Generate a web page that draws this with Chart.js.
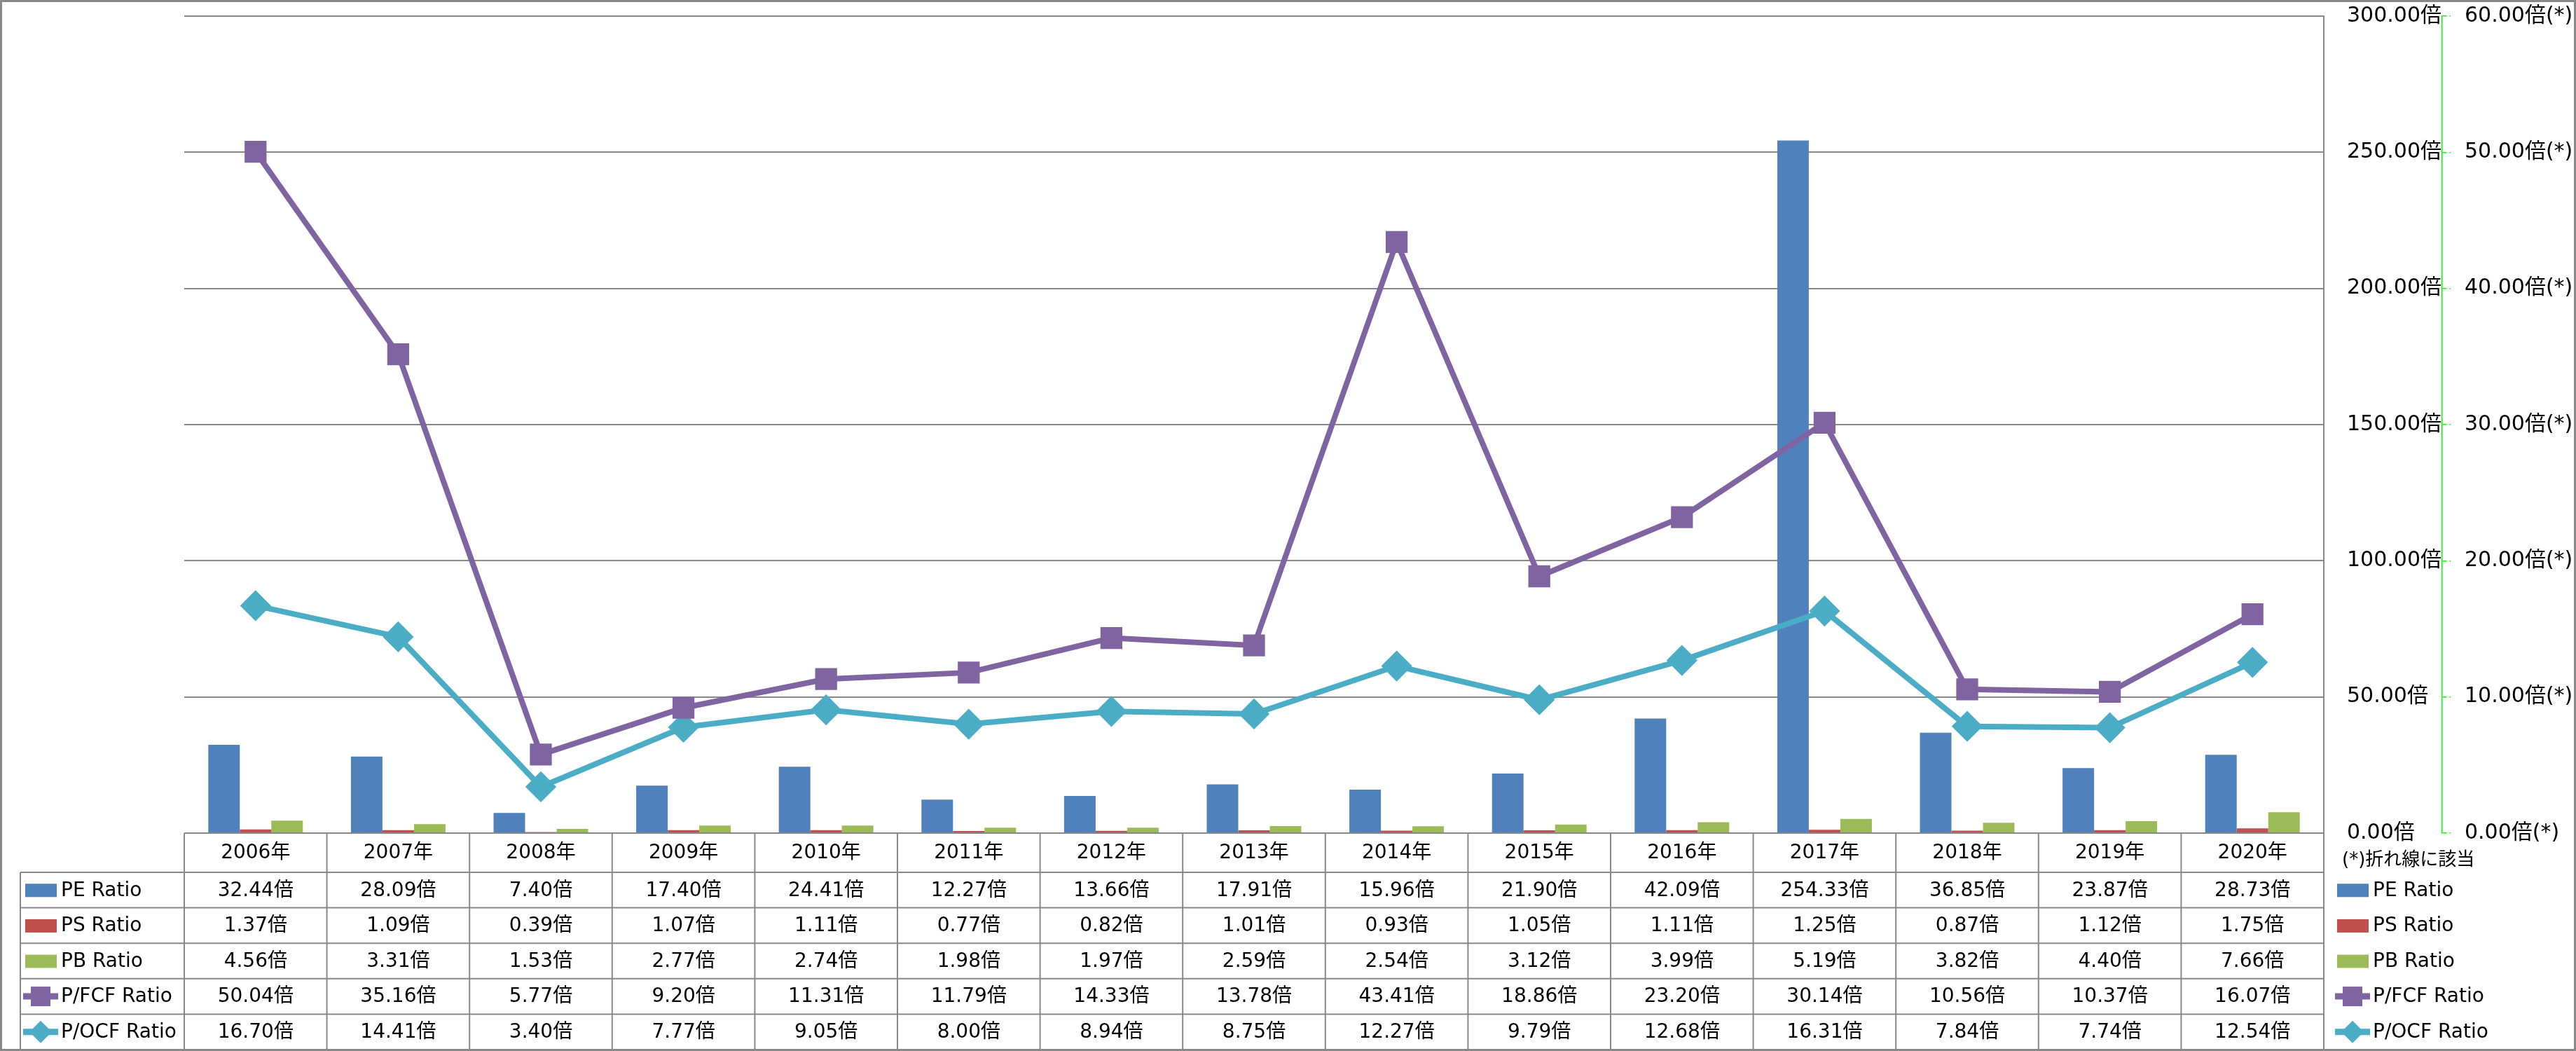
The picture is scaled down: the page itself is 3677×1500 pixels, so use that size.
<!DOCTYPE html>
<html>
<head>
<meta charset="utf-8">
<script src="https://cdn.jsdelivr.net/npm/chart.js@4.4.1/dist/chart.umd.min.js"></script>
<style>
html, body { margin: 0; padding: 0; background: #fff; }
canvas { display: block; }
</style>
</head>
<body>
<canvas id="grafico" width="3677" height="1500"></canvas>
<script>
// === DATI ===
const anni = ['2006年', '2007年', '2008年', '2009年', '2010年', '2011年', '2012年', '2013年', '2014年', '2015年', '2016年', '2017年', '2018年', '2019年', '2020年'];
const peRatio = [32.44, 28.09, 7.40, 17.40, 24.41, 12.27, 13.66, 17.91, 15.96, 21.90, 42.09, 254.33, 36.85, 23.87, 28.73];
const psRatio = [1.37, 1.09, 0.39, 1.07, 1.11, 0.77, 0.82, 1.01, 0.93, 1.05, 1.11, 1.25, 0.87, 1.12, 1.75];
const pbRatio = [4.56, 3.31, 1.53, 2.77, 2.74, 1.98, 1.97, 2.59, 2.54, 3.12, 3.99, 5.19, 3.82, 4.40, 7.66];
const pfcfRatio = [50.04, 35.16, 5.77, 9.20, 11.31, 11.79, 14.33, 13.78, 43.41, 18.86, 23.20, 30.14, 10.56, 10.37, 16.07];
const pocfRatio = [16.70, 14.41, 3.40, 7.77, 9.05, 8.00, 8.94, 8.75, 12.27, 9.79, 12.68, 16.31, 7.84, 7.74, 12.54];
const tickBarre = [0, 50, 100, 150, 200, 250, 300];
const tickLinee = [0, 10, 20, 30, 40, 50, 60];
const notaLinee = '(*)折れ線に該当';

const FONT = "'DejaVu Sans', 'Noto Sans CJK JP', sans-serif";
const GRIGIO = '#888888';

// serie nell'ordine della tabella
const serie = [
    { nome: 'PE Ratio', valori: peRatio, colore: '#4F81BD', tipo: 'barra' },
    { nome: 'PS Ratio', valori: psRatio, colore: '#C0504D', tipo: 'barra' },
    { nome: 'PB Ratio', valori: pbRatio, colore: '#9BBB59', tipo: 'barra' },
    { nome: 'P/FCF Ratio', valori: pfcfRatio, colore: '#8064A2', tipo: 'quadrato' },
    { nome: 'P/OCF Ratio', valori: pocfRatio, colore: '#4BACC6', tipo: 'rombo' }
];

// === CHIAVI DELLA LEGENDA ===
function disegnaChiave(c, s, x, y) {
    c.save();
    c.fillStyle = s.colore;
    c.strokeStyle = s.colore;
    if (s.tipo === 'barra') {
        c.fillRect(x, y - 9, 45, 19);
    } else {
        c.lineWidth = 9;
        c.beginPath();
        c.moveTo(x - 3, y);
        c.lineTo(x + 47, y);
        c.stroke();
        if (s.tipo === 'quadrato') {
            c.fillRect(x + 8, y - 14, 28, 28);
        } else {
            c.beginPath();
            c.moveTo(x + 22, y - 16);
            c.lineTo(x + 38, y);
            c.lineTo(x + 22, y + 16);
            c.lineTo(x + 6, y);
            c.closePath();
            c.fill();
        }
    }
    c.restore();
}

// === TABELLA SOTTO IL GRAFICO ===
const pluginTabella = {
    id: 'tabella',
    afterDraw(chart) {
        const c = chart.ctx;
        const area = chart.chartArea;
        const scalaX = chart.scales.x;
        const n = anni.length;
        const larg = (area.right - area.left) / n;
        const xEtichette = 29;
        const yTesta = area.bottom;
        const altTesta = 56;
        const altRiga = 50.6;
        const yRighe = [];
        for (let i = 0; i <= serie.length; i++) yRighe.push(yTesta + altTesta + i * altRiga);
        const yFondo = yRighe[yRighe.length - 1];

        c.save();
        c.strokeStyle = GRIGIO;
        c.lineWidth = 2;
        c.beginPath();
        c.moveTo(area.left, yTesta);
        c.lineTo(area.right, yTesta);
        yRighe.forEach(y => {
            c.moveTo(xEtichette, y);
            c.lineTo(area.right, y);
        });
        for (let k = 0; k <= n; k++) {
            const x = area.left + k * larg;
            c.moveTo(x, yTesta);
            c.lineTo(x, yFondo);
        }
        c.moveTo(xEtichette, yRighe[0]);
        c.lineTo(xEtichette, yFondo);
        c.stroke();

        c.fillStyle = '#000';
        c.font = '28px ' + FONT;
        c.textAlign = 'center';
        c.textBaseline = 'middle';
        anni.forEach((a, i) => {
            c.fillText(a, scalaX.getPixelForValue(i), yTesta + altTesta / 2 + 1);
        });
        serie.forEach((s, r) => {
            const yc = yRighe[r] + altRiga / 2 + 1;
            s.valori.forEach((v, i) => {
                c.fillText(v.toFixed(2) + '倍', scalaX.getPixelForValue(i), yc);
            });
        });

        // etichette di riga e legenda a destra
        c.textAlign = 'left';
        serie.forEach((s, r) => {
            const yc = yRighe[r] + altRiga / 2;
            disegnaChiave(c, s, 36, yc);
            c.fillStyle = '#000';
            c.fillText(s.nome, 87, yc + 1);
            disegnaChiave(c, s, 3336, yc);
            c.fillStyle = '#000';
            c.fillText(s.nome, 3387, yc + 1);
        });
        c.font = '26px ' + FONT;
        c.fillText(notaLinee, 3343, 1228);

        // bordo esterno
        c.strokeStyle = GRIGIO;
        c.lineWidth = 3;
        c.strokeRect(1.5, 1.5, chart.width - 3, chart.height - 3);
        c.restore();
    }
};

// === GRAFICO ===
const datasets = serie.map((s, i) => {
    if (s.tipo === 'barra') {
        return {
            type: 'bar',
            label: s.nome,
            data: s.valori,
            yAxisID: 'y',
            backgroundColor: s.colore,
            borderWidth: 0,
            categoryPercentage: 0.663,
            barPercentage: 1,
            order: 2
        };
    }
    return {
        type: 'line',
        label: s.nome,
        data: s.valori,
        yAxisID: 'y2',
        borderColor: s.colore,
        borderWidth: 8,
        backgroundColor: s.colore,
        pointStyle: s.tipo === 'quadrato' ? 'rect' : 'rectRot',
        pointRadius: 20,
        pointBorderWidth: 3,
        pointBackgroundColor: s.colore,
        pointBorderColor: s.colore,
        tension: 0,
        clip: false,
        order: 1
    };
});

function fissaLarghezza(larghezza) {
    return scala => {
        scala.width = larghezza;
        scala.paddingTop = 0;
        scala.paddingBottom = 0;
    };
}

const ctx = document.getElementById('grafico').getContext('2d');
const chart = new Chart(ctx, {
    type: 'bar',
    data: { labels: anni, datasets: datasets },
    plugins: [pluginTabella],
    options: {
        responsive: false,
        animation: false,
        devicePixelRatio: 1,
        layout: { padding: { left: 263, top: 23, right: 0, bottom: 311 } },
        plugins: {
            legend: { display: false },
            tooltip: { enabled: false }
        },
        scales: {
            x: {
                display: false,
                offset: true
            },
            y: {
                position: 'right',
                min: 0,
                max: 300,
                afterBuildTicks: scala => { scala.ticks = tickBarre.map(v => ({ value: v })); },
                afterFit: fissaLarghezza(169),
                grid: { color: GRIGIO, lineWidth: 2, drawTicks: false },
                border: { display: true, color: GRIGIO, width: 2 },
                ticks: {
                    color: '#000',
                    padding: 33,
                    crossAlign: 'near',
                    font: { family: FONT, size: 30 },
                    callback: v => v.toFixed(2) + '倍'
                }
            },
            y2: {
                position: 'right',
                min: 0,
                max: 60,
                afterBuildTicks: scala => { scala.ticks = tickLinee.map(v => ({ value: v })); },
                afterFit: fissaLarghezza(191),
                grid: { drawOnChartArea: false, drawTicks: true, tickLength: 12, color: '#00FF00', lineWidth: 1.5, tickBorderDash: [6, 4] },
                border: { display: true, color: '#00FF00', width: 1.5, dash: [6, 4] },
                ticks: {
                    color: '#000',
                    padding: 20,
                    crossAlign: 'near',
                    font: { family: FONT, size: 30 },
                    callback: v => v.toFixed(2) + '倍(*)'
                }
            }
        }
    }
});
</script>
</body>
</html>
